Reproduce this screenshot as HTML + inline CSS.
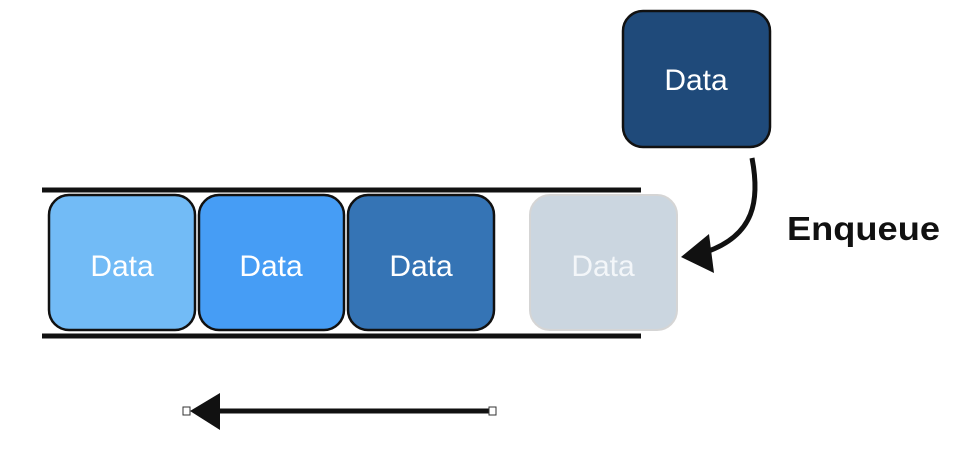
<!DOCTYPE html>
<html><head><meta charset="utf-8"><style>
html,body{margin:0;padding:0;background:#fff;width:966px;height:464px;overflow:hidden}
text{font-family:"Liberation Sans",sans-serif}
</style></head><body>
<svg width="966" height="464" viewBox="0 0 966 464" xmlns="http://www.w3.org/2000/svg">
<line x1="42" y1="190" x2="641" y2="190" stroke="#111" stroke-width="5"/>
<line x1="42" y1="336" x2="641" y2="336" stroke="#111" stroke-width="5"/>
<rect x="49" y="195" width="146" height="135" rx="20" fill="#72bbf6" stroke="#111" stroke-width="2.5"/>
<rect x="199" y="195" width="145" height="135" rx="20" fill="#469df5" stroke="#111" stroke-width="2.5"/>
<rect x="348" y="195" width="146" height="135" rx="20" fill="#3574b5" stroke="#111" stroke-width="2.5"/>
<rect x="530" y="195" width="147" height="135" rx="20" fill="#cbd6e0" stroke="#d5d5d5" stroke-width="2"/>
<rect x="623" y="11" width="147" height="136" rx="20" fill="#1f4a7a" stroke="#111" stroke-width="2.5"/>
<g fill="#fff" font-size="30" text-anchor="middle">
<text x="122" y="276">Data</text>
<text x="271" y="276">Data</text>
<text x="421" y="276">Data</text>
<text x="603" y="276" fill="#f3f6f9">Data</text>
<text x="696" y="90">Data</text>
</g>
<text x="787" y="240" font-size="33" font-weight="bold" fill="#111" textLength="153" lengthAdjust="spacingAndGlyphs">Enqueue</text>
<path d="M752 158 C760 200 755 235 706 252" fill="none" stroke="#111" stroke-width="5"/>
<polygon points="681,257 709,234 714,273" fill="#111"/>
<line x1="205" y1="411" x2="493" y2="411" stroke="#111" stroke-width="5"/>
<polygon points="190,411 220,393 220,430" fill="#111"/>
<rect x="183" y="407" width="7" height="8" fill="#fff" stroke="#333" stroke-width="1"/>
<rect x="489" y="407" width="7" height="8" fill="#fff" stroke="#333" stroke-width="1"/>
</svg>
</body></html>
